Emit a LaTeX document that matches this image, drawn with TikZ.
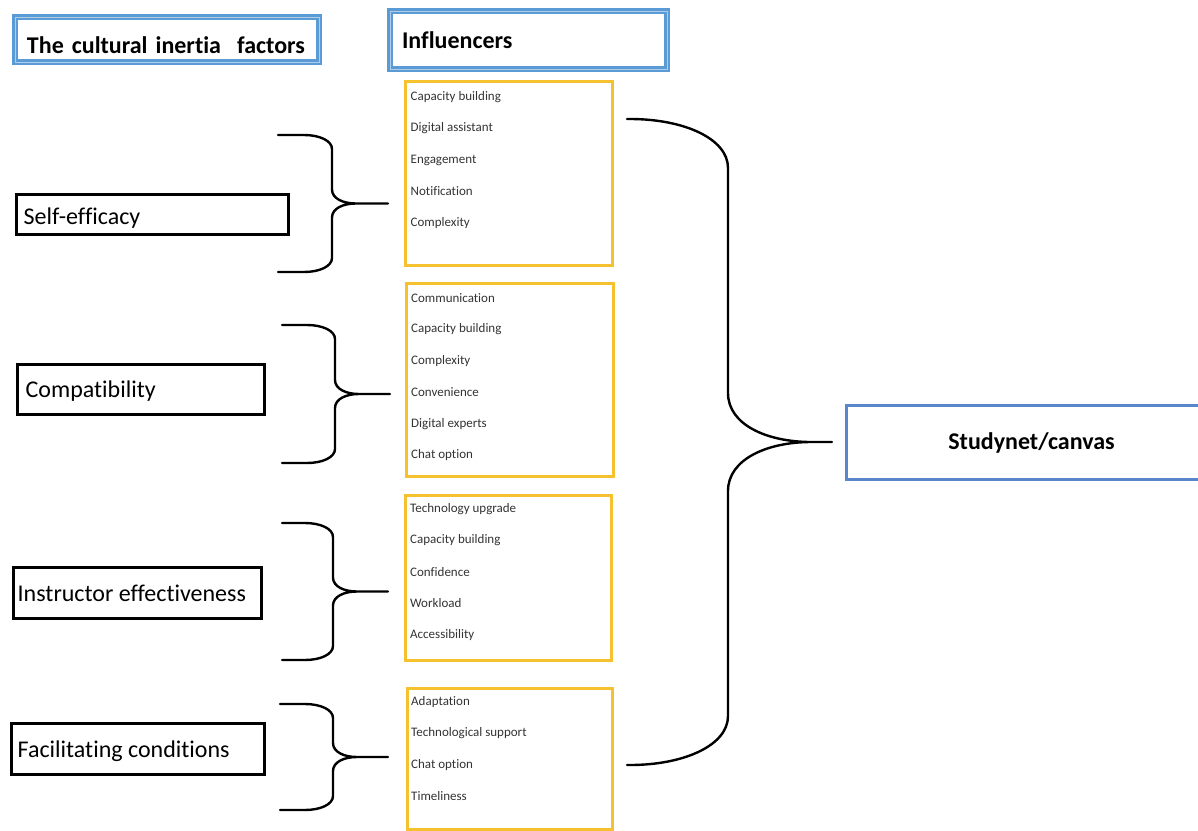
\documentclass[tikz,border=0pt]{standalone}
\usepackage{fontspec}
\setmainfont{Carlito}[Ligatures=NoCommon]

\definecolor{titleblue}{HTML}{5B9BD5}
\definecolor{studyblue}{HTML}{5B86CC}
\definecolor{infyellow}{HTML}{F5C12E}

\tikzset{
  titlebox/.style={draw=titleblue, line width=2.3pt, double=titleblue!50, double distance=1pt,
    font=\fontsize{24}{28}\selectfont\bfseries, align=left, inner xsep=12pt, inner ysep=0pt},
  factorbox/.style={draw, line width=3pt, inner sep=0pt},
  factortext/.style={anchor=base west, inner sep=0pt, font=\fontsize{24}{28}\selectfont},
  infbox/.style={draw=infyellow, line width=3pt, anchor=north west, inner sep=0pt},
  item/.style={anchor=west, inner sep=0pt, font=\fontsize{13}{15}\selectfont, text=black!80},
  bracestroke/.style={line width=2.4pt, line cap=round, line join=round}
}

% left x, top y, bottom y, spine x, tip x, bend
\newcommand{\curlybrace}[6]{%
  \pgfmathsetmacro{\bmid}{(#2+#3)/2}%
  \draw[bracestroke] (#1,#2) -- ({#4-2*#6},#2)
    .. controls ({#4-0.9*#6},#2) and (#4,{#2+0.4*#6}) .. (#4,{#2+#6})
    -- (#4,{\bmid-#6})
    .. controls (#4,{\bmid-0.35*#6}) and ({#4+0.8*#6},\bmid) .. ({#4+1.7*#6},\bmid)
    -- (#5,\bmid)
    ({#4+1.7*#6},\bmid)
    .. controls ({#4+0.8*#6},\bmid) and (#4,{\bmid+0.35*#6}) .. (#4,{\bmid+#6})
    -- (#4,{#3-#6})
    .. controls (#4,{#3-0.4*#6}) and ({#4-0.9*#6},#3) .. ({#4-2*#6},#3)
    -- (#1,#3);}

\begin{document}
\begin{tikzpicture}[x=1pt,y=-1pt]
\useasboundingbox (0,0) rectangle (1198,830);
\clip (0,0) rectangle (1198,830);

\node[titlebox, minimum width=304pt, minimum height=45pt, text width=280pt,
  text height=27pt, text depth=0pt] (factors) at (167,39.5) {The cultural inertia\ \ factors};
\node[titlebox, minimum width=277pt, minimum height=58pt, text width=253pt,
  text height=18pt, text depth=2pt] (influencers) at (528.5,40) {Influencers};

\node[factorbox, minimum width=272pt, minimum height=40pt] (selfeff) at (152.5,214.5) {};
\node[factortext] (selfefftext) at ([shift={(8.5,10)}]selfeff.west) {Self-efficacy};
\node[factorbox, minimum width=247pt, minimum height=50pt] (compat) at (141,389.5) {};
\node[factortext] (compattext) at ([shift={(9.5,8)}]compat.west) {Compatibility};
\node[factorbox, minimum width=248pt, minimum height=51pt] (instr) at (137.5,593) {};
\node[factortext] (instrtext) at ([shift={(5.5,8)}]instr.west) {Instructor effectiveness};
\node[factorbox, minimum width=253pt, minimum height=51pt] (facil) at (138,749) {};
\node[factortext] (faciltext) at ([shift={(7.5,8)}]facil.west) {Facilitating conditions};

\node[infbox, minimum width=207pt, minimum height=184pt] (inf1) at (403.5,79.5) {};
\node[infbox, minimum width=207pt, minimum height=193pt] (inf2) at (404.5,281.5) {};
\node[infbox, minimum width=206pt, minimum height=165pt] (inf3) at (403.5,493.5) {};
\node[infbox, minimum width=205pt, minimum height=141pt] (inf4) at (405.5,686.5) {};

\foreach \txt [count=\i] in {Capacity building,Digital assistant,Engagement,Notification,Complexity}
  \node[item] (a\i) at ([shift={(7,{17.5+31.5*(\i-1)})}]inf1.north west) {\txt};
\foreach \txt [count=\i] in {Communication,Capacity building,Complexity,Convenience,Digital experts,Chat option}
  \node[item] (b\i) at ([shift={(6.5,{16.5+31.4*(\i-1)})}]inf2.north west) {\txt};
\foreach \txt [count=\i] in {Technology upgrade,Capacity building,Confidence,Workload,Accessibility}
  \node[item] (c\i) at ([shift={(6.5,{15.5+31.5*(\i-1)})}]inf3.north west) {\txt};
\foreach \txt [count=\i] in {Adaptation,Technological support,Chat option,Timeliness}
  \node[item] (d\i) at ([shift={(5.5,{15.5+31.3*(\i-1)})}]inf4.north west) {\txt};

\node[draw=studyblue, line width=3pt, minimum width=370pt, minimum height=74pt, anchor=north west,
  font=\fontsize{24}{28}\selectfont\bfseries] (studynet) at (845,404) {Studynet/canvas};

\curlybrace{278}{135}{272}{332}{388}{14}
\curlybrace{282}{325}{463}{335}{390}{14}
\curlybrace{282}{523}{660}{333}{388}{14}
\curlybrace{280}{704}{810}{333}{388}{14}
\curlybrace{627}{119}{765}{728}{832}{49}
\end{tikzpicture}
\end{document}
